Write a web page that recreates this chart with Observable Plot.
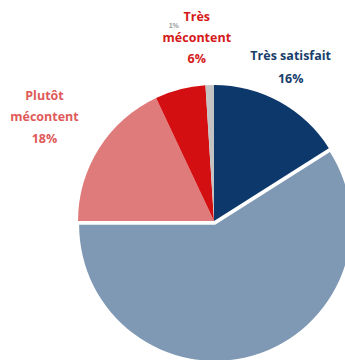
<!DOCTYPE html>
<html>
<head>
<meta charset="utf-8">
<script src="https://cdn.jsdelivr.net/npm/d3@7"></script>
<script src="https://cdn.jsdelivr.net/npm/@observablehq/plot@0.6"></script>
<style>
  html, body { margin: 0; padding: 0; background: #fff; }
</style>
</head>
<body>
<div id="chart"></div>
<script>
// Data
const categories = ["Très satisfait", "Plutôt satisfait", "Plutôt mécontent", "Très mécontent", "NSP"];
const values = [16, 59, 18, 6, 1];
const colors = ["#0c386b", "#7f99b4", "#e07b7b", "#d40f12", "#c3c3c3"];
const labelLines = [["Très satisfait", "16%"], [], ["Plutôt", "mécontent", "18%"], ["Très", "mécontent", "6%"], ["1%"]];
const labelColors = ["#173e6b", "#7f99b4", "#e05a5a", "#d41a1a", "#9a9a9a"];
const exploded = [0, 4, 0, 0, 0]; // pixel offset

const data = categories.map((c, i) => ({category: c, value: values[i], color: colors[i], offset: exploded[i]}));
const pie = d3.pie().value(d => d.value).sort(null)(data);

// label anchor positions in radius units (center = 0,0, radius = 1)
const labelPos = [[0.56, 1.13], null, [-1.25, 0.765], [-0.13, 1.35], [-0.30, 1.44]];
const labelRows = [];
labelLines.forEach((lines, i) => {
  if (!labelPos[i]) return;
  const n = lines.length;
  const small = i === 4;
  const step = i === 0 ? 0.168 : 0.155;
  lines.forEach((t, j) => {
    labelRows.push({
      text: t,
      x: labelPos[i][0],
      y: labelPos[i][1] - (j - (n - 1) / 2) * step,
      color: labelColors[i],
      size: small ? 7 : 12.5
    });
  });
});

const W = 345, H = 360, R = 136, CX = 214, CY = 221;

const pieMark = (index, scales, values, dims, context) => {
  const cx = scales.x(0), cy = scales.y(0);
  const r = scales.x(1) - scales.x(0);
  const g = d3.create("svg:g");
  const arc = d3.arc().innerRadius(0).outerRadius(r);
  for (const p of pie) {
    const mid = (p.startAngle + p.endAngle) / 2;
    const ox = Math.sin(mid) * p.data.offset;
    const oy = -Math.cos(mid) * p.data.offset;
    g.append("path")
      .attr("d", arc(p))
      .attr("fill", p.data.color)
      .attr("transform", `translate(${cx + ox},${cy + oy})`);
  }
  return g.node();
};

const chart = Plot.plot({
  width: W,
  height: H,
  margin: 0,
  x: {domain: [-CX / R, (W - CX) / R], range: [0, W], axis: null},
  y: {domain: [-(H - CY) / R, CY / R], range: [H, 0], axis: null},
  style: {background: "#fff"},
  marks: [
    pieMark,
    Plot.text(labelRows.filter(d => d.size < 10), {
      x: "x", y: "y", text: "text", fill: "color",
      fontSize: 7, fontWeight: "bold", fontFamily: "Liberation Sans, Arial, sans-serif"
    }),
    Plot.text(labelRows.filter(d => d.size >= 10), {
      x: "x", y: "y", text: "text", fill: "color",
      fontSize: 12.5, fontWeight: "bold", fontFamily: "Open Sans, Liberation Sans, sans-serif",
      style: "letter-spacing:-0.2px"
    })
  ]
});
document.getElementById("chart").appendChild(chart);
</script>
</body>
</html>
